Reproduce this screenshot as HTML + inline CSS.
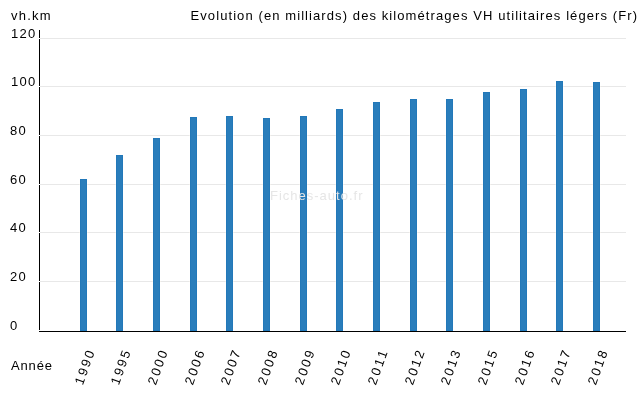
<!DOCTYPE html>
<html><head><meta charset="utf-8"><style>
html,body{margin:0;padding:0;background:#fff;width:640px;height:400px;overflow:hidden}
svg{position:absolute;left:0;top:0;will-change:transform}
.t{font-family:"Liberation Sans",sans-serif;font-size:13px;fill:#000}
</style></head><body>
<svg width="640" height="400" viewBox="0 0 640 400" shape-rendering="crispEdges">
<rect x="40" y="38" width="586" height="1" fill="#e8e8e8"/>
<rect x="40" y="86" width="586" height="1" fill="#e8e8e8"/>
<rect x="40" y="135" width="586" height="1" fill="#e8e8e8"/>
<rect x="40" y="184" width="586" height="1" fill="#e8e8e8"/>
<rect x="40" y="232" width="586" height="1" fill="#e8e8e8"/>
<rect x="40" y="281" width="586" height="1" fill="#e8e8e8"/>
<rect x="39" y="30" width="1" height="300" fill="#000"/>
<rect x="39" y="38" width="1" height="1" fill="#fff"/>
<rect x="39" y="86" width="1" height="1" fill="#fff"/>
<rect x="39" y="135" width="1" height="1" fill="#fff"/>
<rect x="39" y="184" width="1" height="1" fill="#fff"/>
<rect x="39" y="232" width="1" height="1" fill="#fff"/>
<rect x="39" y="281" width="1" height="1" fill="#fff"/>
<rect x="79" y="184" width="9" height="1" fill="#f4f0ea"/>
<rect x="79" y="232" width="9" height="1" fill="#f4f0ea"/>
<rect x="79" y="281" width="9" height="1" fill="#f4f0ea"/>
<rect x="80" y="179" width="7" height="152" fill="#2278b9"/>
<rect x="81" y="180" width="5" height="150" fill="#297dbb"/>
<rect x="115" y="184" width="9" height="1" fill="#f4f0ea"/>
<rect x="115" y="232" width="9" height="1" fill="#f4f0ea"/>
<rect x="115" y="281" width="9" height="1" fill="#f4f0ea"/>
<rect x="116" y="155" width="7" height="176" fill="#2278b9"/>
<rect x="117" y="156" width="5" height="174" fill="#297dbb"/>
<rect x="152" y="184" width="9" height="1" fill="#f4f0ea"/>
<rect x="152" y="232" width="9" height="1" fill="#f4f0ea"/>
<rect x="152" y="281" width="9" height="1" fill="#f4f0ea"/>
<rect x="153" y="138" width="7" height="193" fill="#2278b9"/>
<rect x="154" y="139" width="5" height="191" fill="#297dbb"/>
<rect x="189" y="135" width="9" height="1" fill="#f4f0ea"/>
<rect x="189" y="184" width="9" height="1" fill="#f4f0ea"/>
<rect x="189" y="232" width="9" height="1" fill="#f4f0ea"/>
<rect x="189" y="281" width="9" height="1" fill="#f4f0ea"/>
<rect x="190" y="117" width="7" height="214" fill="#2278b9"/>
<rect x="191" y="118" width="5" height="212" fill="#297dbb"/>
<rect x="225" y="135" width="9" height="1" fill="#f4f0ea"/>
<rect x="225" y="184" width="9" height="1" fill="#f4f0ea"/>
<rect x="225" y="232" width="9" height="1" fill="#f4f0ea"/>
<rect x="225" y="281" width="9" height="1" fill="#f4f0ea"/>
<rect x="226" y="116" width="7" height="215" fill="#2278b9"/>
<rect x="227" y="117" width="5" height="213" fill="#297dbb"/>
<rect x="262" y="135" width="9" height="1" fill="#f4f0ea"/>
<rect x="262" y="184" width="9" height="1" fill="#f4f0ea"/>
<rect x="262" y="232" width="9" height="1" fill="#f4f0ea"/>
<rect x="262" y="281" width="9" height="1" fill="#f4f0ea"/>
<rect x="263" y="118" width="7" height="213" fill="#2278b9"/>
<rect x="264" y="119" width="5" height="211" fill="#297dbb"/>
<rect x="299" y="135" width="9" height="1" fill="#f4f0ea"/>
<rect x="299" y="184" width="9" height="1" fill="#f4f0ea"/>
<rect x="299" y="232" width="9" height="1" fill="#f4f0ea"/>
<rect x="299" y="281" width="9" height="1" fill="#f4f0ea"/>
<rect x="300" y="116" width="7" height="215" fill="#2278b9"/>
<rect x="301" y="117" width="5" height="213" fill="#297dbb"/>
<rect x="335" y="135" width="9" height="1" fill="#f4f0ea"/>
<rect x="335" y="184" width="9" height="1" fill="#f4f0ea"/>
<rect x="335" y="232" width="9" height="1" fill="#f4f0ea"/>
<rect x="335" y="281" width="9" height="1" fill="#f4f0ea"/>
<rect x="336" y="109" width="7" height="222" fill="#2278b9"/>
<rect x="337" y="110" width="5" height="220" fill="#297dbb"/>
<rect x="372" y="135" width="9" height="1" fill="#f4f0ea"/>
<rect x="372" y="184" width="9" height="1" fill="#f4f0ea"/>
<rect x="372" y="232" width="9" height="1" fill="#f4f0ea"/>
<rect x="372" y="281" width="9" height="1" fill="#f4f0ea"/>
<rect x="373" y="102" width="7" height="229" fill="#2278b9"/>
<rect x="374" y="103" width="5" height="227" fill="#297dbb"/>
<rect x="409" y="135" width="9" height="1" fill="#f4f0ea"/>
<rect x="409" y="184" width="9" height="1" fill="#f4f0ea"/>
<rect x="409" y="232" width="9" height="1" fill="#f4f0ea"/>
<rect x="409" y="281" width="9" height="1" fill="#f4f0ea"/>
<rect x="410" y="99" width="7" height="232" fill="#2278b9"/>
<rect x="411" y="100" width="5" height="230" fill="#297dbb"/>
<rect x="445" y="135" width="9" height="1" fill="#f4f0ea"/>
<rect x="445" y="184" width="9" height="1" fill="#f4f0ea"/>
<rect x="445" y="232" width="9" height="1" fill="#f4f0ea"/>
<rect x="445" y="281" width="9" height="1" fill="#f4f0ea"/>
<rect x="446" y="99" width="7" height="232" fill="#2278b9"/>
<rect x="447" y="100" width="5" height="230" fill="#297dbb"/>
<rect x="482" y="135" width="9" height="1" fill="#f4f0ea"/>
<rect x="482" y="184" width="9" height="1" fill="#f4f0ea"/>
<rect x="482" y="232" width="9" height="1" fill="#f4f0ea"/>
<rect x="482" y="281" width="9" height="1" fill="#f4f0ea"/>
<rect x="483" y="92" width="7" height="239" fill="#2278b9"/>
<rect x="484" y="93" width="5" height="237" fill="#297dbb"/>
<rect x="519" y="135" width="9" height="1" fill="#f4f0ea"/>
<rect x="519" y="184" width="9" height="1" fill="#f4f0ea"/>
<rect x="519" y="232" width="9" height="1" fill="#f4f0ea"/>
<rect x="519" y="281" width="9" height="1" fill="#f4f0ea"/>
<rect x="520" y="89" width="7" height="242" fill="#2278b9"/>
<rect x="521" y="90" width="5" height="240" fill="#297dbb"/>
<rect x="555" y="86" width="9" height="1" fill="#f4f0ea"/>
<rect x="555" y="135" width="9" height="1" fill="#f4f0ea"/>
<rect x="555" y="184" width="9" height="1" fill="#f4f0ea"/>
<rect x="555" y="232" width="9" height="1" fill="#f4f0ea"/>
<rect x="555" y="281" width="9" height="1" fill="#f4f0ea"/>
<rect x="556" y="81" width="7" height="250" fill="#2278b9"/>
<rect x="557" y="82" width="5" height="248" fill="#297dbb"/>
<rect x="592" y="86" width="9" height="1" fill="#f4f0ea"/>
<rect x="592" y="135" width="9" height="1" fill="#f4f0ea"/>
<rect x="592" y="184" width="9" height="1" fill="#f4f0ea"/>
<rect x="592" y="232" width="9" height="1" fill="#f4f0ea"/>
<rect x="592" y="281" width="9" height="1" fill="#f4f0ea"/>
<rect x="593" y="82" width="7" height="249" fill="#2278b9"/>
<rect x="594" y="83" width="5" height="247" fill="#297dbb"/>
<rect x="39" y="331" width="587" height="1" fill="#000"/>
<text x="270" y="200" class="t" style="fill:#e6e6e6" textLength="92.5" lengthAdjust="spacing">Fiches-auto.fr</text>
<text x="11" y="20" class="t" textLength="39.5" lengthAdjust="spacing">vh.km</text>
<text x="190.5" y="20" class="t" textLength="446.5" lengthAdjust="spacing">Evolution (en milliards) des kilométrages VH utilitaires légers (Fr)</text>
<text x="11" y="38" class="t" textLength="24.3" lengthAdjust="spacing">120</text><text x="11" y="86" class="t" textLength="24.3" lengthAdjust="spacing">100</text><text x="10" y="135" class="t" textLength="15.8" lengthAdjust="spacing">80</text><text x="10" y="184" class="t" textLength="15.8" lengthAdjust="spacing">60</text><text x="10" y="232" class="t" textLength="15.8" lengthAdjust="spacing">40</text><text x="10" y="281" class="t" textLength="15.8" lengthAdjust="spacing">20</text><text x="10" y="330" class="t" textLength="7.5" lengthAdjust="spacing">0</text>
<text x="11" y="370" class="t" textLength="41" lengthAdjust="spacing">Année</text>
<text x="84.5" y="367.5" class="t" text-anchor="middle" dominant-baseline="central" textLength="35.5" lengthAdjust="spacing" transform="rotate(-70 84.5 367.5)">1990</text><text x="120.5" y="367.5" class="t" text-anchor="middle" dominant-baseline="central" textLength="35.5" lengthAdjust="spacing" transform="rotate(-70 120.5 367.5)">1995</text><text x="157.5" y="367.5" class="t" text-anchor="middle" dominant-baseline="central" textLength="35.5" lengthAdjust="spacing" transform="rotate(-70 157.5 367.5)">2000</text><text x="194.5" y="367.5" class="t" text-anchor="middle" dominant-baseline="central" textLength="35.5" lengthAdjust="spacing" transform="rotate(-70 194.5 367.5)">2006</text><text x="230.5" y="367.5" class="t" text-anchor="middle" dominant-baseline="central" textLength="35.5" lengthAdjust="spacing" transform="rotate(-70 230.5 367.5)">2007</text><text x="267.5" y="367.5" class="t" text-anchor="middle" dominant-baseline="central" textLength="35.5" lengthAdjust="spacing" transform="rotate(-70 267.5 367.5)">2008</text><text x="304.5" y="367.5" class="t" text-anchor="middle" dominant-baseline="central" textLength="35.5" lengthAdjust="spacing" transform="rotate(-70 304.5 367.5)">2009</text><text x="340.5" y="367.5" class="t" text-anchor="middle" dominant-baseline="central" textLength="35.5" lengthAdjust="spacing" transform="rotate(-70 340.5 367.5)">2010</text><text x="377.5" y="367.5" class="t" text-anchor="middle" dominant-baseline="central" textLength="35.5" lengthAdjust="spacing" transform="rotate(-70 377.5 367.5)">2011</text><text x="414.5" y="367.5" class="t" text-anchor="middle" dominant-baseline="central" textLength="35.5" lengthAdjust="spacing" transform="rotate(-70 414.5 367.5)">2012</text><text x="450.5" y="367.5" class="t" text-anchor="middle" dominant-baseline="central" textLength="35.5" lengthAdjust="spacing" transform="rotate(-70 450.5 367.5)">2013</text><text x="487.5" y="367.5" class="t" text-anchor="middle" dominant-baseline="central" textLength="35.5" lengthAdjust="spacing" transform="rotate(-70 487.5 367.5)">2015</text><text x="524.5" y="367.5" class="t" text-anchor="middle" dominant-baseline="central" textLength="35.5" lengthAdjust="spacing" transform="rotate(-70 524.5 367.5)">2016</text><text x="560.5" y="367.5" class="t" text-anchor="middle" dominant-baseline="central" textLength="35.5" lengthAdjust="spacing" transform="rotate(-70 560.5 367.5)">2017</text><text x="597.5" y="367.5" class="t" text-anchor="middle" dominant-baseline="central" textLength="35.5" lengthAdjust="spacing" transform="rotate(-70 597.5 367.5)">2018</text>
</svg>
</body></html>
